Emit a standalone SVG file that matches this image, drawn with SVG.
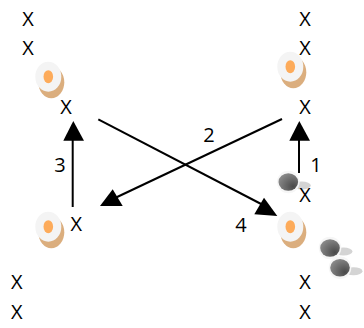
<svg xmlns="http://www.w3.org/2000/svg" width="364" height="328" viewBox="0 0 364 328">
<defs>
<radialGradient id="ballFill" cx="0.75" cy="0.75" r="0.95"><stop offset="0" stop-color="#4a4a4a"/><stop offset="1" stop-color="#939393"/></radialGradient>
<g id="egg"><ellipse cx="3" cy="5.500" rx="13" ry="16" fill="#dbae7e"/><ellipse cx="0" cy="0" rx="13" ry="15" fill="#f4f4f4"/><ellipse cx="0" cy="0" rx="4.800" ry="6.500" fill="#fdab5a"/></g>
<g id="ball"><ellipse cx="13.500" cy="3.500" rx="9" ry="4" fill="#d4d4d4"/><circle cx="0" cy="0" r="11.300" fill="#f6f6f6"/><ellipse cx="0" cy="0" rx="9.800" ry="8.800" fill="url(#ballFill)"/></g>
</defs>
<style>
text{font-family:"Open Sans",sans-serif;font-size:20px;fill:#000;text-anchor:middle}
.l{stroke:#000;stroke-width:2;fill:none}
</style>
<g id="connectors">
<line class="l" x1="299" y1="173" x2="299" y2="135"/><polygon points="299.300,121 289.300,140.700 310,140.700"/>
<line class="l" x1="72.700" y1="207" x2="72.700" y2="135"/><polygon points="73.300,121 63.300,140.700 84,140.700"/>
<line class="l" x1="282" y1="119" x2="115" y2="198"/><polygon points="112.700,189.300 100,206 122.700,206"/>
<line class="l" x1="98.300" y1="119.300" x2="265" y2="206"/><polygon points="264,197.700 254.300,214.300 277.300,216"/>
</g>
<g id="egg-1"><use href="#egg" x="48.300" y="76.700"/></g>
<g id="egg-2"><use href="#egg" x="290.300" y="66.700"/></g>
<g id="egg-3"><use href="#egg" x="48.300" y="226.700"/></g>
<g id="egg-4"><use href="#egg" x="290.300" y="226.700"/></g>
<g id="ball-1"><use href="#ball" x="288.300" y="182"/></g>
<g id="ball-2"><use href="#ball" x="330" y="248"/></g>
<g id="ball-3"><use href="#ball" x="340" y="267.700"/></g>
<g id="players">
<text x="28" y="26">X</text><text x="28" y="55">X</text><text x="66" y="113.500">X</text>
<text x="305" y="26">X</text><text x="305" y="55">X</text><text x="305" y="114">X</text>
<text x="305" y="202">X</text><text x="76.300" y="230.500">X</text>
<text x="16.700" y="288.500">X</text><text x="16.700" y="318.500">X</text>
<text x="305" y="289">X</text><text x="305" y="319">X</text>
</g>
<g id="labels">
<text x="60" y="172">3</text><text x="209" y="142.300">2</text><text x="316" y="172">1</text><text x="241" y="231.700">4</text>
</g>
</svg>
